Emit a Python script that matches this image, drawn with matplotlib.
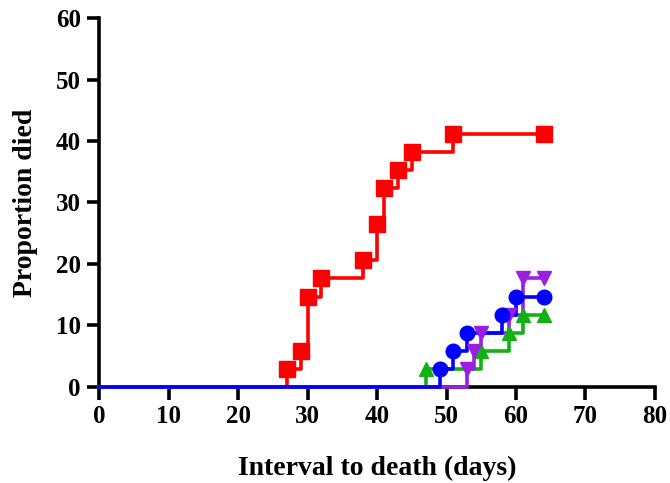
import matplotlib
matplotlib.use("Agg")
import matplotlib.pyplot as plt

N = 34  # animals per group, one step = 1/34

# event days and cumulative deaths per group, last entry = end of follow-up
red_days = [27, 29, 30, 32, 38, 40, 41, 43, 45, 51, 64]
red_deaths = [1, 2, 5, 6, 7, 9, 11, 12, 13, 14, 14]

green_days = [47, 55, 59, 61, 64]
green_deaths = [1, 2, 3, 4, 4]

purple_days = [53, 54, 55, 59, 61, 64]
purple_deaths = [1, 2, 3, 4, 6, 6]

blue_days = [49, 51, 53, 58, 60, 64]
blue_deaths = [1, 2, 3, 4, 5, 5]

x_ticks = [0, 10, 20, 30, 40, 50, 60, 70, 80]
y_ticks = [0, 10, 20, 30, 40, 50, 60]

plt.rcParams['font.family'] = ['Liberation Serif', 'DejaVu Serif']
plt.rcParams['font.weight'] = 'bold'

fig = plt.figure(figsize=(6.7, 4.83), dpi=100)
ax = fig.add_axes([0.1478, 0.1988, 0.8298, 0.7639])


def draw_group(days, deaths, color, marker, ms):
    pct = [d / N * 100 for d in deaths]
    xs = [0] + days
    ys = [0] + pct
    ax.step(xs, ys, where='post', color=color, lw=2.6, clip_on=False, zorder=3)
    ax.plot(days, pct, ls='none', marker=marker, color=color, ms=ms,
            clip_on=False, zorder=4)


draw_group(red_days, red_deaths, '#ff0000', 's', 11)
draw_group(green_days, green_deaths, '#12b012', '^', 10.5)
draw_group(purple_days, purple_deaths, '#9b1fe0', 'v', 10.5)
draw_group(blue_days, blue_deaths, '#0000ff', 'o', 10.5)

ax.set_xlim(0, 80)
ax.set_ylim(0, 60)
ax.set_xticks(x_ticks)
ax.set_yticks(y_ticks)

for side in ['top', 'right']:
    ax.spines[side].set_visible(False)
for side in ['left', 'bottom']:
    ax.spines[side].set_linewidth(2.6)
ax.tick_params(width=2.6, length=9, labelsize=18, pad=4)
for lbl in ax.get_xticklabels() + ax.get_yticklabels():
    lbl.set_fontweight('bold')

ax.set_xlabel('Interval to death (days)', fontsize=20, fontweight='bold', labelpad=20)
ax.set_ylabel('Proportion died', fontsize=20, fontweight='bold', labelpad=13)

fig.savefig('out.png', dpi=100)
